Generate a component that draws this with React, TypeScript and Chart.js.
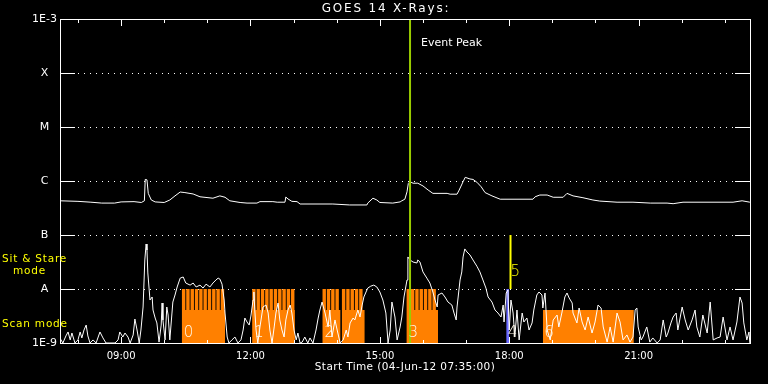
import React, { useEffect, useRef } from 'react';
import { Chart, registerables } from 'chart.js';

Chart.register(...registerables);

// ---------- data ----------
const titleText = 'GOES 14 X-Rays:';
const xAxisTitle = 'Start Time (04-Jun-12 07:35:00)';
const START_HOUR = 7 + 35 / 60;
const END_HOUR = START_HOUR + 16;

const xTickHours = [9, 12, 15, 18, 21];
const xTickLabels = ['09:00', '12:00', '15:00', '18:00', '21:00'];
const yTickValues = [1e-9, 1e-8, 1e-7, 1e-6, 1e-5, 1e-4, 1e-3];
const yTickLabels = ['1E-9', 'A', 'B', 'C', 'M', 'X', '1E-3'];

// GOES long channel (1-8 A), [hour, W/m^2]
const longChannel: [number, number][] = [
  [7.58, 4.3e-7], [8.0, 4.2e-7], [8.3, 4.05e-7], [8.55, 3.9e-7], [8.85, 3.9e-7], [9.0, 4.1e-7],
  [9.3, 4.15e-7], [9.47, 4.0e-7], [9.54, 4.3e-7], [9.56, 1.07e-6], [9.6, 1.05e-6], [9.63, 5.9e-7],
  [9.7, 4.45e-7], [9.79, 4.1e-7], [10.0, 4.0e-7], [10.13, 4.45e-7], [10.25, 5.3e-7], [10.37, 6.25e-7],
  [10.48, 6.1e-7], [10.67, 5.75e-7], [10.83, 5.1e-7], [11.13, 4.8e-7], [11.29, 5.3e-7], [11.41, 5.0e-7],
  [11.52, 4.3e-7], [11.76, 4.0e-7], [11.92, 3.9e-7], [12.15, 3.9e-7], [12.22, 4.15e-7], [12.52, 4.15e-7],
  [12.62, 4.05e-7], [12.8, 4.05e-7], [12.82, 5.05e-7], [12.87, 4.65e-7], [12.96, 4.2e-7], [13.08, 4.15e-7],
  [13.15, 3.75e-7], [13.91, 3.75e-7], [14.3, 3.6e-7], [14.7, 3.6e-7], [14.72, 3.9e-7], [14.84, 4.8e-7],
  [14.93, 4.45e-7], [15.0, 4.0e-7], [15.3, 3.9e-7], [15.47, 4.1e-7], [15.51, 4.3e-7], [15.58, 4.6e-7],
  [15.63, 6.3e-7], [15.66, 9.0e-7], [15.7, 9.7e-7], [15.77, 9.1e-7], [15.88, 9.1e-7], [16.0, 8.1e-7],
  [16.12, 6.8e-7], [16.23, 5.9e-7], [16.56, 5.9e-7], [16.63, 5.7e-7], [16.79, 5.7e-7], [16.84, 6.8e-7],
  [16.93, 9.7e-7], [16.98, 1.17e-6], [17.09, 1.09e-6], [17.16, 1.07e-6], [17.25, 9.5e-7], [17.35, 7.8e-7],
  [17.44, 6.1e-7], [17.6, 5.3e-7], [17.79, 4.6e-7], [18.55, 4.6e-7], [18.6, 5.1e-7], [18.71, 5.5e-7],
  [18.88, 5.5e-7], [19.02, 5.0e-7], [19.25, 5.0e-7], [19.34, 5.9e-7], [19.48, 5.3e-7], [19.71, 4.9e-7],
  [19.94, 4.45e-7], [20.1, 4.25e-7], [20.5, 4.05e-7], [20.87, 4.05e-7], [21.27, 3.9e-7], [21.66, 3.9e-7],
  [21.8, 3.8e-7], [22.03, 4.05e-7], [23.19, 4.05e-7], [23.4, 4.3e-7], [23.58, 4.05e-7],
];

// GOES short channel (0.5-4 A), [hour, W/m^2]
const shortChannel: [number, number][] = [
  [7.58, 1.24e-9], [7.65, 1.0e-9], [7.72, 1.35e-9], [7.77, 1.6e-9], [7.82, 1.14e-9], [7.86, 1.53e-9],
  [7.93, 1.0e-9], [8.0, 1.14e-9], [8.05, 1.6e-9], [8.09, 1.24e-9], [8.14, 1.74e-9], [8.19, 2.15e-9],
  [8.23, 1.35e-9], [8.28, 1.0e-9], [8.35, 1.14e-9], [8.42, 1.0e-9], [8.51, 1.6e-9], [8.58, 1.24e-9],
  [8.65, 1.0e-9], [8.74, 1.0e-9], [8.86, 1.0e-9], [8.93, 1.14e-9], [8.97, 1.6e-9], [9.04, 1.29e-9],
  [9.09, 1.53e-9], [9.16, 1.29e-9], [9.21, 1.0e-9], [9.28, 1.41e-9], [9.32, 2.78e-9], [9.37, 1.74e-9],
  [9.42, 1.0e-9], [9.46, 1.74e-9], [9.51, 4.64e-9], [9.55, 3.45e-8], [9.58, 6.81e-8], [9.6, 5.27e-8],
  [9.62, 1.98e-8], [9.67, 6.25e-9], [9.72, 7.11e-9], [9.74, 4.08e-9], [9.79, 2.9e-9], [9.83, 2.35e-9],
  [9.88, 1.04e-9], [9.93, 2.15e-9], [9.95, 5.5e-9], [9.97, 2.67e-9], [10.02, 1.14e-9], [10.06, 4.64e-9],
  [10.09, 3.3e-9], [10.13, 1.14e-9], [10.18, 3.59e-9], [10.2, 5.74e-9], [10.25, 7.74e-9], [10.3, 1.09e-8],
  [10.37, 1.59e-8], [10.44, 1.67e-8], [10.5, 1.29e-8], [10.6, 1.18e-8], [10.67, 1.29e-8], [10.74, 1.09e-8],
  [10.83, 1.18e-8], [10.9, 1.04e-8], [10.97, 1.23e-8], [11.06, 1.09e-8], [11.13, 1.29e-8], [11.2, 1.47e-8],
  [11.25, 1.59e-8], [11.29, 1.53e-8], [11.34, 1.23e-8], [11.39, 6.25e-9], [11.41, 3.59e-9], [11.46, 1.29e-9],
  [11.5, 1.0e-9], [11.57, 1.14e-9], [11.64, 1.29e-9], [11.71, 1.0e-9], [11.78, 1.14e-9], [11.83, 1.74e-9],
  [11.87, 2.9e-9], [11.92, 2.45e-9], [11.97, 2.15e-9], [12.01, 3.16e-9], [12.06, 6.25e-9], [12.08, 8.8e-9],
  [12.1, 4.08e-9], [12.13, 1.74e-9], [12.17, 1.0e-9], [12.22, 1.98e-9], [12.29, 4.64e-9], [12.36, 5.05e-9],
  [12.41, 3.59e-9], [12.45, 1.74e-9], [12.5, 1.0e-9], [12.55, 1.98e-9], [12.59, 3.59e-9], [12.64, 5.5e-9],
  [12.68, 2.67e-9], [12.73, 1.74e-9], [12.78, 1.29e-9], [12.82, 2.67e-9], [12.87, 4.08e-9], [12.92, 5.05e-9],
  [12.96, 3.59e-9], [13.01, 1.74e-9], [13.06, 1.14e-9], [13.1, 1.53e-9], [13.15, 1.0e-9], [13.2, 1.04e-9],
  [13.26, 1.29e-9], [13.33, 1.0e-9], [13.38, 1.24e-9], [13.45, 1.0e-9], [13.52, 1.74e-9], [13.57, 2.9e-9],
  [13.61, 4.08e-9], [13.66, 5.74e-9], [13.73, 3.59e-9], [13.8, 1.98e-9], [13.84, 4.08e-9], [13.89, 1.29e-9],
  [13.96, 2.67e-9], [14.01, 1.74e-9], [14.08, 1.0e-9], [14.15, 1.14e-9], [14.22, 1.74e-9], [14.26, 1.29e-9],
  [14.31, 2.35e-9], [14.38, 2.9e-9], [14.42, 2.67e-9], [14.49, 4.08e-9], [14.54, 3.03e-9], [14.59, 5.05e-9],
  [14.63, 7.11e-9], [14.68, 8.8e-9], [14.72, 1.04e-8], [14.79, 1.13e-8], [14.86, 1.18e-8], [14.93, 1.09e-8],
  [15.0, 8.8e-9], [15.07, 6.25e-9], [15.14, 3.59e-9], [15.19, 1.0e-9], [15.24, 1.74e-9], [15.28, 5.74e-9],
  [15.35, 3.03e-9], [15.4, 1.14e-9], [15.47, 1.98e-9], [15.51, 3.03e-9], [15.56, 7.11e-9], [15.63, 1.47e-8],
  [15.65, 3.92e-8], [15.7, 3.45e-8], [15.77, 3.16e-8], [15.86, 3.03e-8], [15.88, 3.45e-8], [15.93, 3.16e-8],
  [16.0, 2.07e-8], [16.09, 1.59e-8], [16.16, 1.29e-8], [16.23, 8.8e-9], [16.28, 6.25e-9], [16.33, 4.64e-9],
  [16.35, 7.74e-9], [16.44, 8.43e-9], [16.51, 7.11e-9], [16.58, 5.74e-9], [16.67, 5.05e-9], [16.72, 3.59e-9],
  [16.77, 2.67e-9], [16.79, 4.64e-9], [16.86, 1.47e-8], [16.9, 2.07e-8], [16.93, 3.92e-8], [16.97, 5.52e-8],
  [17.02, 4.85e-8], [17.09, 4.27e-8], [17.16, 3.45e-8], [17.25, 2.64e-8], [17.32, 2.07e-8], [17.39, 1.47e-8],
  [17.46, 1.04e-8], [17.51, 7.11e-9], [17.6, 5.74e-9], [17.67, 4.08e-9], [17.74, 3.59e-9], [17.81, 3.03e-9],
  [17.86, 5.05e-9], [17.88, 2.45e-9], [17.93, 8.43e-9], [17.97, 9.58e-9], [18.0, 1.74e-9], [18.04, 6.25e-9],
  [18.09, 3.59e-9], [18.13, 1.29e-9], [18.18, 4.08e-9], [18.23, 1.14e-9], [18.3, 3.59e-9], [18.34, 2.45e-9],
  [18.41, 2.9e-9], [18.46, 1.74e-9], [18.53, 2.35e-9], [18.57, 4.08e-9], [18.64, 7.74e-9], [18.69, 8.8e-9],
  [18.76, 7.74e-9], [18.78, 4.45e-9], [18.83, 8.43e-9], [18.88, 1.74e-9], [18.95, 1.14e-9], [19.02, 2.67e-9],
  [19.11, 3.3e-9], [19.15, 1.98e-9], [19.22, 3.59e-9], [19.29, 7.11e-9], [19.34, 8.43e-9], [19.39, 6.81e-9],
  [19.46, 5.5e-9], [19.48, 3.59e-9], [19.57, 2.35e-9], [19.62, 4.45e-9], [19.69, 2.45e-9], [19.76, 1.74e-9],
  [19.83, 3.03e-9], [19.92, 1.53e-9], [19.99, 2.45e-9], [20.06, 5.05e-9], [20.13, 4.45e-9], [20.18, 1.98e-9],
  [20.27, 1.04e-9], [20.34, 1.98e-9], [20.41, 1.04e-9], [20.5, 3.59e-9], [20.57, 2.45e-9], [20.64, 1.14e-9],
  [20.73, 1.41e-9], [20.8, 1.04e-9], [20.87, 1.29e-9], [20.92, 4.08e-9], [20.96, 4.45e-9], [20.99, 1.98e-9],
  [21.06, 1.14e-9], [21.1, 1.29e-9], [21.19, 1.98e-9], [21.26, 1.04e-9], [21.33, 1.24e-9], [21.43, 1.0e-9],
  [21.5, 1.14e-9], [21.57, 2.67e-9], [21.64, 1.29e-9], [21.68, 1.53e-9], [21.75, 2.35e-9], [21.8, 3.03e-9],
  [21.87, 3.59e-9], [21.91, 1.74e-9], [22.01, 4.64e-9], [22.08, 2.67e-9], [22.15, 1.74e-9], [22.24, 2.67e-9],
  [22.31, 4.08e-9], [22.35, 1.98e-9], [22.42, 1.29e-9], [22.49, 3.3e-9], [22.59, 1.53e-9], [22.66, 5.74e-9],
  [22.73, 1.14e-9], [22.82, 1.24e-9], [22.89, 1.29e-9], [22.96, 3.03e-9], [23.05, 1.14e-9], [23.12, 1.98e-9],
  [23.19, 1.14e-9], [23.28, 2.45e-9], [23.35, 7.11e-9], [23.4, 5.5e-9], [23.44, 2.35e-9], [23.51, 1.14e-9],
  [23.56, 1.6e-9], [23.58, 1.0e-9],
];

// Observation blocks (scan mode level) and sit & stare rasters
const SCAN_LEVEL = 4.1e-9;
const STARE_LEVEL = 1e-8;
const scanBlockStart = [10.42, 12.05, 13.68, 14.12, 15.63, 18.78];
const scanBlockEnd = [11.41, 13.03, 14.09, 14.65, 16.35, 20.89];
const stareRasterTimes = [
  10.45, 10.55, 10.65, 10.75, 10.85, 10.95, 11.05, 11.15, 11.25, 11.35,
  12.08, 12.18, 12.28, 12.38, 12.48, 12.58, 12.68, 12.78, 12.88, 12.98,
  13.71, 13.81, 13.91, 14.01,
  14.16, 14.26, 14.36, 14.46, 14.56,
  15.66, 15.76, 15.86, 15.96, 16.06, 16.16, 16.26,
];
const blueBlockStart = 17.93;
const blueBlockEnd = 18.0;
const yellowMarkerTime = 18.03;
const yellowMarkerLow = 1e-8;
const yellowMarkerHigh = 1e-7;
const eventPeakTime = 15.7;

const blockLabels = ['0', '1', '2', '3', '4', '6'];
const blockLabelTimes = [10.42, 12.05, 13.68, 15.63, 17.93, 18.78];
const yellowLabel = '5';

// ---------- helpers ----------
const FONT = '"DejaVu Sans", "Liberation Sans", sans-serif';
const ORANGE = '#ff8000';
const sameDecade = (a: number, b: number) => Math.abs(Math.log10(a) - Math.log10(b)) < 1e-6;

const decorPlugin = {
  id: 'decor',
  beforeDraw(chart: any) {
    const { ctx, width, height } = chart;
    ctx.save();
    ctx.fillStyle = '#000';
    ctx.fillRect(0, 0, width, height);
    ctx.restore();
  },
  beforeDatasetsDraw(chart: any) {
    const { ctx, chartArea: a, scales } = chart;
    const y = scales.y;
    ctx.save();
    ctx.strokeStyle = '#fff';
    ctx.lineWidth = 1;
    ctx.setLineDash([1, 5]);
    yTickValues.forEach((v) => {
      if (sameDecade(v, y.min) || sameDecade(v, y.max)) return;
      const py = Math.round(y.getPixelForValue(v)) + 0.5;
      ctx.beginPath();
      ctx.moveTo(a.left + 18, py);
      ctx.lineTo(a.right - 15, py);
      ctx.stroke();
    });
    ctx.restore();
  },
  afterDatasetsDraw(chart: any) {
    const { ctx, chartArea: a, scales, width } = chart;
    const x = scales.x;
    const y = scales.y;
    ctx.save();
    ctx.strokeStyle = '#fff';
    ctx.lineWidth = 1;
    ctx.setLineDash([]);
    ctx.strokeRect(a.left + 0.5, a.top + 0.5, a.right - a.left, a.bottom - a.top);
    ctx.beginPath();
    yTickValues.forEach((v) => {
      if (sameDecade(v, y.min) || sameDecade(v, y.max)) return;
      const py = Math.round(y.getPixelForValue(v)) + 0.5;
      ctx.moveTo(a.left, py);
      ctx.lineTo(a.left + 15, py);
      ctx.moveTo(a.right - 15, py);
      ctx.lineTo(a.right + 1, py);
    });
    for (let h = Math.ceil(x.min); h <= Math.floor(x.max); h++) {
      const px = Math.round(x.getPixelForValue(h)) + 0.5;
      const len = h % 3 === 0 ? 7 : 4;
      ctx.moveTo(px, a.top);
      ctx.lineTo(px, a.top + len);
      ctx.moveTo(px, a.bottom + 1);
      ctx.lineTo(px, a.bottom + 1 - len);
    }
    ctx.stroke();

    // texts
    ctx.textBaseline = 'middle';
    ctx.fillStyle = '#fff';
    ctx.font = `12px ${FONT}`;
    ctx.textAlign = 'center';
    (ctx as any).letterSpacing = '1.8px';
    ctx.fillText(titleText, width / 2 + 2, 9);
    (ctx as any).letterSpacing = '0.4px';
    ctx.font = `10.5px ${FONT}`;
    ctx.fillText(xAxisTitle, (a.left + a.right) / 2, 367);

    ctx.textAlign = 'left';
    (ctx as any).letterSpacing = '0px';
    ctx.font = `11px ${FONT}`;
    ctx.fillText('Event Peak', x.getPixelForValue(eventPeakTime) + 11, 43);

    ctx.fillStyle = '#ffff00';
    (ctx as any).letterSpacing = '0.8px';
    ctx.font = `10.5px ${FONT}`;
    ctx.fillText('Sit & Stare', 2, 259);
    ctx.fillText('mode', 13, 271);
    ctx.fillText('Scan mode', 2, 324);

    (ctx as any).letterSpacing = '0px';
    ctx.font = `200 15px ${FONT}`;
    ctx.fillStyle = '#fff8e8';
    blockLabels.forEach((lab, i) => {
      ctx.fillText(lab, x.getPixelForValue(blockLabelTimes[i]) + 1.5, y.getPixelForValue(1.55e-9));
    });
    ctx.fillStyle = '#ffff00';
    ctx.fillText(yellowLabel, x.getPixelForValue(yellowMarkerTime), y.getPixelForValue(2.07e-8));
    ctx.restore();
  },
};

function buildConfig(): any {
  const stripeData: any[] = [];
  stareRasterTimes.forEach((t) => {
    stripeData.push({ x: t, y: 1e-9 }, { x: t, y: STARE_LEVEL }, { x: t, y: null });
  });
  const blockSets = scanBlockStart.map((s, i) => ({
    type: 'line',
    data: [{ x: s, y: SCAN_LEVEL }, { x: scanBlockEnd[i], y: SCAN_LEVEL }],
    borderWidth: 0,
    borderColor: ORANGE,
    backgroundColor: ORANGE,
    fill: 'start',
    order: 10 + i,
  }));
  return {
    type: 'line',
    data: {
      datasets: [
        {
          data: [{ x: eventPeakTime, y: 1e-9 }, { x: eventPeakTime, y: 1e-3 }],
          borderColor: '#99cc00',
          borderWidth: 2,
          borderCapStyle: 'butt',
          order: 0,
        },
        {
          data: longChannel.map(([t, v]) => ({ x: t, y: v })),
          borderColor: '#ffffff',
          borderWidth: 1,
          order: 1,
        },
        {
          data: shortChannel.map(([t, v]) => ({ x: t, y: v })),
          borderColor: '#ffffff',
          borderWidth: 1,
          order: 2,
        },
        {
          data: [{ x: yellowMarkerTime, y: yellowMarkerLow }, { x: yellowMarkerTime, y: yellowMarkerHigh }],
          borderColor: '#ffff00',
          borderWidth: 2,
          borderCapStyle: 'butt',
          order: 3,
        },
        {
          data: [{ x: blueBlockStart, y: STARE_LEVEL }, { x: blueBlockEnd, y: STARE_LEVEL }],
          borderWidth: 0,
          borderColor: '#6a6aff',
          backgroundColor: '#6a6aff',
          fill: 'start',
          order: 4,
        },
        {
          data: stripeData,
          borderColor: ORANGE,
          borderWidth: 3.4,
          borderCapStyle: 'butt',
          spanGaps: false,
          order: 5,
        },
        ...blockSets,
      ],
    },
    options: {
      responsive: false,
      animation: false,
      events: [],
      parsing: true,
      elements: { point: { radius: 0 }, line: { tension: 0 } },
      layout: { padding: { top: 19, right: 18, left: 0, bottom: 0 } },
      plugins: { legend: { display: false }, tooltip: { enabled: false }, title: { display: false } },
      scales: {
        x: {
          type: 'linear',
          min: START_HOUR,
          max: END_HOUR,
          offset: false,
          afterBuildTicks: (s: any) => {
            s.ticks = xTickHours.map((v) => ({ value: v }));
          },
          afterFit: (s: any) => {
            s.height = 41;
          },
          grid: { display: false, drawTicks: false },
          border: { display: false },
          ticks: {
            autoSkip: false,
            maxRotation: 0,
            color: '#ffffff',
            padding: 7,
            font: { family: FONT, size: 10 },
            callback: (v: any) => {
              const i = xTickHours.indexOf(Number(v));
              return i >= 0 ? xTickLabels[i] : '';
            },
          },
        },
        y: {
          type: 'logarithmic',
          min: 1e-9,
          max: 1e-3,
          afterBuildTicks: (s: any) => {
            s.ticks = yTickValues.map((v) => ({ value: v }));
          },
          afterFit: (s: any) => {
            s.width = 60;
          },
          grid: { display: false, drawTicks: false },
          border: { display: false },
          ticks: {
            autoSkip: false,
            color: '#ffffff',
            padding: 3,
            crossAlign: 'center',
            font: { family: FONT, size: 11 },
            callback: (v: any) => {
              const i = yTickValues.findIndex((t) => sameDecade(t, Number(v)));
              return i >= 0 ? yTickLabels[i] : '';
            },
          },
        },
      },
    },
    plugins: [decorPlugin],
  };
}

export default function App() {
  const ref = useRef<HTMLCanvasElement>(null);
  useEffect(() => {
    document.body.style.margin = '0';
    document.body.style.background = '#000';
    const chart = new Chart(ref.current as HTMLCanvasElement, buildConfig());
    return () => chart.destroy();
  }, []);
  return (
    <div style={{ width: 768, height: 384, background: '#000' }}>
      <canvas ref={ref} width={768} height={384} style={{ display: 'block' }} />
    </div>
  );
}
